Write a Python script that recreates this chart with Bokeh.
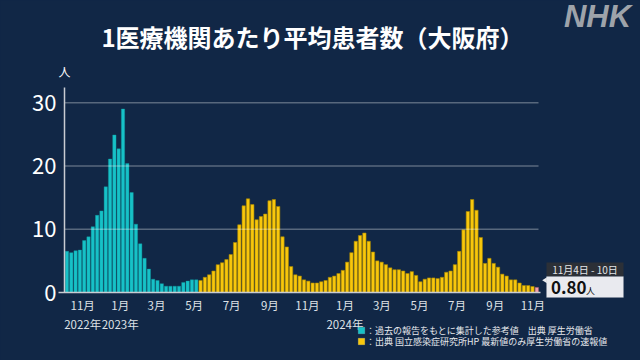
from datetime import date, timedelta
from bokeh.plotting import figure
from bokeh.models import FixedTicker, Label, PolyAnnotation, ColumnDataSource
from bokeh.embed import file_html
from bokeh.resources import INLINE

# ---------------- data ----------------
first_week = date(2022, 10, 3)   # Monday of first weekly bar

# weekly values, reference series (MHLW past reports)
ref_values = [6.5, 6.3, 6.6, 6.7, 8.2, 8.8, 10.4, 12.2, 12.9, 16.7,
              21.1, 24.9, 22.7, 29.0, 20.4, 15.8, 10.8, 7.7, 5.4, 3.7,
              2.1, 1.9, 1.4, 1.0, 1.0, 1.0, 1.0, 1.6, 1.8, 2.0, 2.0]

# weekly values, NIID series (from week of 2023-05-08)
niid_values = [1.9, 2.4, 2.8, 3.4, 4.4, 4.7, 5.2, 6.0, 7.9, 10.7,
               13.7, 14.8, 13.9, 11.5, 12.0, 12.4, 14.5, 14.7, 13.6, 8.8,
               7.2, 4.1, 2.8, 2.6, 2.0, 1.8, 1.5, 1.5, 1.7, 1.9,
               2.4, 2.6, 3.0, 3.5, 4.8, 6.3, 8.1, 9.0, 9.4, 8.1,
               6.4, 5.0, 4.8, 4.4, 3.9, 3.6, 3.6, 3.4, 3.0, 3.3,
               2.7, 1.7, 2.1, 2.3, 2.3, 2.2, 2.4, 3.2, 3.4, 4.4,
               6.5, 9.9, 12.8, 14.7, 13.0, 8.7, 4.6, 5.4, 4.6, 4.0,
               2.9, 2.6, 2.0, 2.0, 1.5, 1.1, 1.1, 0.95]

latest_value = 0.80
latest_period = "11月4日 - 10日"
latest_text = "0.80"
unit = "人"

tick_dates = [date(2022, 11, 1), date(2023, 1, 1), date(2023, 3, 1), date(2023, 5, 1),
              date(2023, 7, 1), date(2023, 9, 1), date(2023, 11, 1), date(2024, 1, 1),
              date(2024, 3, 1), date(2024, 5, 1), date(2024, 7, 1), date(2024, 9, 1),
              date(2024, 11, 1)]
tick_labels = ["11月\n2022年", "1月\n2023年", "3月", "5月", "7月", "9月", "11月",
               "1月\n2024年", "3月", "5月", "7月", "9月", "11月"]
y_ticks = [0, 10, 20, 30]

title_text = "1医療機関あたり平均患者数（大阪府）"
legend_texts = ["：過去の報告をもとに集計した参考値　出典 厚生労働省",
                "：出典 国立感染症研究所HP 最新値のみ厚生労働省の速報値"]

# ---------------- styles ----------------
BG = "#112746"
CYAN = "#17c1c7"
YELLOW = "#f8c70c"
PINK = "#f2a0aa"
AXIS = "#c9ccd2"
FONT = "Noto Sans CJK JP"

W, H = 640, 360
# plotting area in canvas pixels
FX0, FX1 = 64, 540
FY0, FY1 = 292, 87
XD0, XD1 = -0.5, 772.5
YMAX = 32.4


def px2x(px):
    return XD0 + (px - FX0) * (XD1 - XD0) / (FX1 - FX0)


def py2y(py):
    return (FY0 - py) * YMAX / (FY0 - FY1)


def week_mid(i):
    return (first_week + timedelta(days=7 * i) - first_week).days + 3.5


n_ref = len(ref_values)
n_niid = len(niid_values)
ref_src = ColumnDataSource(dict(x=[week_mid(i) for i in range(n_ref)], top=ref_values))
niid_src = ColumnDataSource(dict(x=[week_mid(n_ref + i) for i in range(n_niid)], top=niid_values))
last_src = ColumnDataSource(dict(x=[week_mid(n_ref + n_niid)], top=[latest_value]))

p = figure(width=W, height=H, output_backend="svg", toolbar_location=None,
           x_range=(px2x(0), px2x(W)), y_range=(py2y(H), py2y(0)),
           min_border=0, min_border_left=0, min_border_right=0,
           min_border_top=0, min_border_bottom=0,
           background_fill_color=BG, border_fill_color=BG, outline_line_color=None)

BW = 5.4
p.vbar(x="x", top="top", width=BW, bottom=0, source=ref_src,
       fill_color=CYAN, line_color="#0f9aa0", line_width=0.4)
p.vbar(x="x", top="top", width=BW, bottom=0, source=niid_src,
       fill_color=YELLOW, line_color="#a88600", line_width=0.6)
p.vbar(x="x", top="top", width=BW, bottom=0, source=last_src,
       fill_color=PINK, line_color="#b06070", line_width=0.5)

# horizontal grid lines over the bars, limited to the plotting area
p.xgrid.visible = False
p.ygrid.visible = False
gy = y_ticks[1:]
p.segment(x0=[XD0] * len(gy), x1=[px2x(538)] * len(gy), y0=gy, y1=gy,
          line_color="white", line_alpha=0.3, line_width=1.5)

# axes drawn at fixed data locations
p.yaxis.fixed_location = XD0
p.yaxis.bounds = (0, YMAX)
p.yaxis.ticker = FixedTicker(ticks=y_ticks)
p.yaxis.axis_line_color = AXIS
p.yaxis.axis_line_width = 1.5
p.yaxis.major_tick_line_color = None
p.yaxis.minor_tick_line_color = None
p.yaxis.major_tick_out = 0
p.yaxis.major_tick_in = 0
p.yaxis.major_label_standoff = 8
p.yaxis.major_label_text_font = FONT
p.yaxis.major_label_text_font_size = "22px"
p.yaxis.major_label_text_color = "white"

tick_x = [(d - first_week).days for d in tick_dates]
p.xaxis.fixed_location = 0
p.xaxis.bounds = (px2x(58), XD1)
p.xaxis.ticker = FixedTicker(ticks=tick_x)
p.xaxis.major_label_overrides = {tx: lbl for tx, lbl in zip(tick_x, tick_labels)}
p.xaxis.axis_line_color = AXIS
p.xaxis.axis_line_width = 1.5
p.xaxis.major_tick_line_color = None
p.xaxis.minor_tick_line_color = None
p.xaxis.major_tick_out = 0
p.xaxis.major_tick_in = 0
p.xaxis.major_label_standoff = 4
p.xaxis.major_label_text_font = FONT
p.xaxis.major_label_text_font_size = "11.5px"
p.xaxis.major_label_text_color = "#dfe2e7"

# title, logo, unit
p.add_layout(Label(x=px2x(312), y=py2y(36), text=title_text, text_font=FONT,
                   text_font_size="24px", text_font_style="bold", text_color="white",
                   text_align="center", text_baseline="middle"))
p.add_layout(Label(x=px2x(597), y=py2y(16), text="NHK", text_font="Liberation Sans",
                   text_font_size="31px", text_font_style="bold italic", text_color="#9ea3aa",
                   text_align="center", text_baseline="middle"))
p.add_layout(Label(x=px2x(64), y=py2y(71), text=unit, text_font=FONT,
                   text_font_size="12px", text_color="white",
                   text_align="center", text_baseline="middle"))

# legend
for (cy, col, txt) in [(330, CYAN, legend_texts[0]), (341, YELLOW, legend_texts[1])]:
    p.add_layout(PolyAnnotation(xs=[px2x(357.7), px2x(364.3), px2x(364.3), px2x(357.7)],
                                ys=[py2y(cy - 3.3), py2y(cy - 3.3), py2y(cy + 3.3), py2y(cy + 3.3)],
                                fill_color=col, fill_alpha=1, line_color="#dfe2e7", line_width=0.5))
    p.add_layout(Label(x=px2x(365.5), y=py2y(cy), text=txt, text_font=FONT,
                       text_font_size="9px", text_color="#e6e8ec",
                       text_align="left", text_baseline="middle"))

# callout
p.add_layout(PolyAnnotation(xs=[px2x(541.7), px2x(546.5), px2x(546.5)],
                            ys=[py2y(279.7), py2y(276.7), py2y(282.7)],
                            fill_color="#e9eaef", fill_alpha=1, line_color=None))
p.add_layout(PolyAnnotation(xs=[px2x(546), px2x(623), px2x(623), px2x(546)],
                            ys=[py2y(262), py2y(262), py2y(276), py2y(276)],
                            fill_color="#2c3037", fill_alpha=1, line_color=None))
p.add_layout(PolyAnnotation(xs=[px2x(546), px2x(623), px2x(623), px2x(546)],
                            ys=[py2y(276), py2y(276), py2y(297), py2y(297)],
                            fill_color="#e9eaef", fill_alpha=1, line_color="#9aa0a8", line_width=0.5))
p.add_layout(Label(x=px2x(584.5), y=py2y(269), text=latest_period, text_font=FONT,
                   text_font_size="10px", text_color="#e3e5e8",
                   text_align="center", text_baseline="middle"))
p.add_layout(Label(x=px2x(550.5), y=py2y(287), text=latest_text, text_font=FONT,
                   text_font_size="17px", text_font_style="bold", text_color="#111111",
                   text_align="left", text_baseline="middle"))
p.add_layout(Label(x=px2x(585.5), y=py2y(289.5), text=unit, text_font=FONT,
                   text_font_size="9px", text_color="#111111",
                   text_align="left", text_baseline="middle"))

html = file_html(p, INLINE)
html = html.replace("</head>", "<style>body{background:%s;}</style></head>" % BG, 1)
open("out.html", "w").write(html)
